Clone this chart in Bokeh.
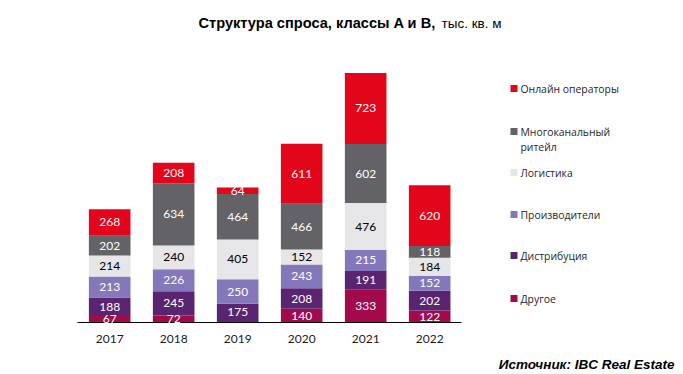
import numpy as np
from bokeh.plotting import figure
from bokeh.models import (ColumnDataSource, Label, LabelSet, Range1d, FixedTicker,
                          NumeralTickFormatter, BoxAnnotation)
from bokeh.core.properties import value
from bokeh.embed import file_html
from bokeh.resources import INLINE

years = [2017, 2018, 2019, 2020, 2021, 2022]
other = [67, 72, 15, 140, 333, 122]
distribution = [188, 245, 175, 208, 191, 202]
producers = [213, 226, 250, 243, 215, 152]
logistics = [214, 240, 405, 152, 476, 184]
omnichannel = [202, 634, 464, 466, 602, 118]
online = [268, 208, 64, 611, 723, 620]

series_keys = ["other", "distribution", "producers", "logistics", "omnichannel", "online"]
series_values = [other, distribution, producers, logistics, omnichannel, online]
series_colors = ["#A20A4B", "#5B2470", "#8478BA", "#E6E5E8", "#636367", "#E3061A"]
label_colors = ["white", "white", "white", "black", "white", "white"]
legend_names = ["Онлайн операторы", "Многоканальный\nритейл", "Логистика",
                "Производители", "Дистрибуция", "Другое"]
legend_colors = ["#E3061A", "#636367", "#E6E5E8", "#8478BA", "#5B2470", "#A20A4B"]
title_bold = "Структура спроса, классы A и B,"
title_unit = "тыс. кв. м"
source_text = "Источник: IBC Real Estate"

W, H = 683, 374

data = {"year": years}
for k, v in zip(series_keys, series_values):
    data[k] = v
source = ColumnDataSource(data)

p = figure(width=W, height=H, x_range=Range1d(2015.294, 2025.966),
           y_range=Range1d(-529, 3277), output_backend="svg", toolbar_location=None,
           y_axis_location=None, min_border=0, min_border_left=0, min_border_right=0,
           min_border_top=0, min_border_bottom=0)
p.outline_line_color = None
p.xgrid.visible = False
p.ygrid.visible = False

p.vbar_stack(series_keys, x="year", width=0.65, color=series_colors,
             line_color=None, source=source)

vals = np.array(series_values, dtype=float)
cum = np.cumsum(vals, axis=0)
mids = cum - vals / 2
lx, ly, lt, lc = [], [], [], []
for i in range(len(series_keys)):
    for j, yr in enumerate(years):
        if vals[i, j] >= 30:
            lx.append(yr)
            ly.append(mids[i, j])
            lt.append(str(int(vals[i, j])))
            lc.append(label_colors[i])
lsrc = ColumnDataSource(dict(x=lx, y=ly, t=lt, c=lc))
p.add_layout(LabelSet(x="x", y="y", text="t", source=lsrc, text_color="c",
                      text_align="center", text_baseline="middle",
                      text_font=value("Lato"), text_font_size="12px"))

ax = p.xaxis[0]
ax.fixed_location = 0
ax.bounds = (years[0] - 0.5, years[-1] + 0.5)
ax.ticker = FixedTicker(ticks=years)
ax.formatter = NumeralTickFormatter(format="0")
ax.axis_line_color = "black"
ax.axis_line_width = 1
ax.major_tick_line_color = None
ax.minor_tick_line_color = None
ax.major_label_standoff = 6
ax.major_label_text_font = "Lato"
ax.major_label_text_font_size = "12px"
ax.major_label_text_color = "#1a1a1a"


def sy(page_y):
    # frame-relative screen units are measured upward from the frame bottom
    return H - page_y


# title
p.add_layout(Label(x=198, y=sy(22.5), x_units="screen", y_units="screen",
                   text=title_bold, text_font="Liberation Sans", text_font_style="bold",
                   text_font_size="14.6px", text_color="black",
                   text_baseline="alphabetic", text_align="left"))
p.add_layout(Label(x=441, y=sy(22.5), x_units="screen", y_units="screen",
                   text=title_unit, text_font="Liberation Sans",
                   text_font_size="13.5px", text_color="black",
                   text_baseline="alphabetic", text_align="left"))

# legend
leg_y = [88, 131, 172, 214, 255, 298]
for name, col, yy in zip(legend_names, legend_colors, leg_y):
    p.add_layout(BoxAnnotation(left=510, right=517, top=sy(yy - 3.5), bottom=sy(yy + 3.5),
                               left_units="screen", right_units="screen",
                               top_units="screen", bottom_units="screen",
                               fill_color=col, fill_alpha=1, line_color=None))
    for k, ln in enumerate(name.split("\n")):
        p.add_layout(Label(x=520, y=sy(yy + 15 * k), x_units="screen", y_units="screen",
                           text=ln, text_font="Open Sans", text_font_size="10.4px",
                           text_color="#262626", text_baseline="middle",
                           text_align="left"))

# source
p.add_layout(Label(x=674, y=sy(364), x_units="screen", y_units="screen",
                   text=source_text, text_font="Liberation Sans",
                   text_font_style="bold italic", text_font_size="13.5px",
                   text_color="black", text_baseline="middle", text_align="right"))

open("out.html", "w").write(file_html(p, INLINE))
